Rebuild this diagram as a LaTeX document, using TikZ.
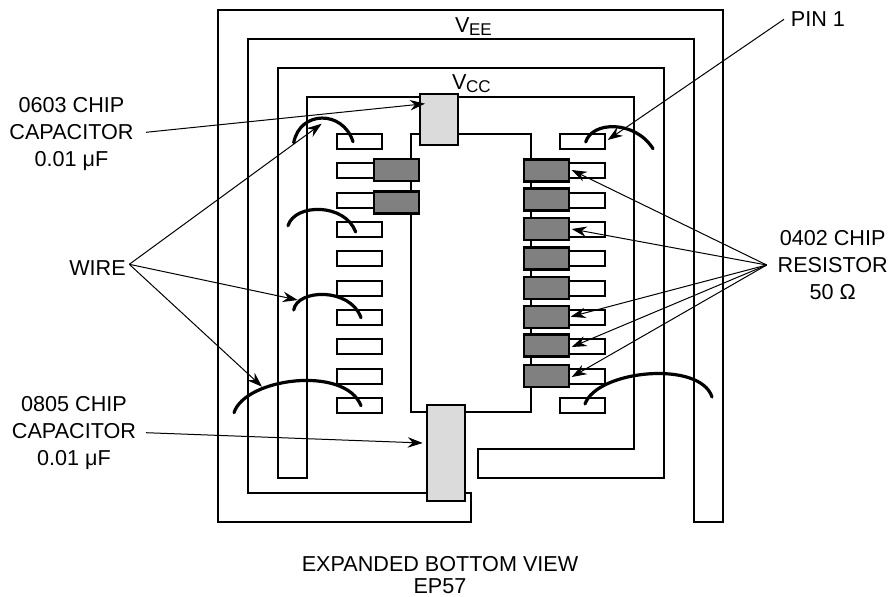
\documentclass[tikz,border=0pt]{standalone}
\usepackage{fontspec}
\setmainfont{Liberation Sans}
\usetikzlibrary{arrows.meta}
\tikzset{
  plane/.style={draw=black,line width=2pt,line join=miter},
  padbox/.style={draw=black,fill=white,line width=2pt,minimum width=45pt,minimum height=15pt,inner sep=0pt,outer sep=0pt},
  resbox/.style={draw=black,fill=black!50,line width=2.4pt,minimum width=45pt,minimum height=22pt,inner sep=0pt,outer sep=0pt},
  capbox/.style={draw=black,fill=black!14,line width=2.4pt,inner sep=0pt,outer sep=0pt},
  wirearc/.style={draw=black,line width=3.2pt,line cap=round},
  leader/.style={draw=black,line width=1pt,-{Stealth[length=15pt,width=10.5pt,inset=5pt]}},
  lbl/.style={font=\fontsize{21.6pt}{27pt}\selectfont,align=center,inner sep=0pt},
  lblb/.style={font=\fontsize{21.6pt}{22.7pt}\selectfont,align=center,inner sep=0pt},
  subl/.style={font=\fontsize{21.6pt}{22pt}\selectfont,inner sep=0pt}
}
\begin{document}
\begin{tikzpicture}[x=1pt,y=-1pt]
\useasboundingbox (0,0) rectangle (892,597);
% planes
\draw[plane] (218,10) -- (723,10) -- (723,522) -- (694,522) -- (694,39) -- (248,39) -- (248,493) -- (471,493) -- (471,522) -- (218,522) -- cycle;
\draw[plane] (278,68) -- (664,68) -- (664,478) -- (478,478) -- (478,449) -- (634,449) -- (634,97) -- (307,97) -- (307,478) -- (278,478) -- cycle;
% inner ground outline
\draw[plane] (425,134) -- (411,134) -- (411,412) -- (440,412);
\draw[plane] (450,134) -- (531,134) -- (531,412) -- (450,412);
% pads
\foreach \i/\y in {1/141.5,2/170.8,3/200.2,4/229.5,5/258.8,6/288.2,7/317.5,8/346.8,9/376.2,10/405.5}{
  \node[padbox] (pl\i) at (359.5,\y) {};
  \node[padbox] (pr\i) at (582.5,\y) {};
}
% resistors
\node[resbox] (rl1) at (396.5,170) {};
\node[resbox] (rl2) at (396.5,202.5) {};
\foreach \i/\y in {1/170.5,2/199.5,3/229,4/258.5,5/288,6/317,7/345.5,8/376}{
  \node[resbox] (rr\i) at (546.5,\y) {};
}
% capacitors
\node[capbox,minimum width=38pt,minimum height=51pt] (c603) at (439,119.5) {};
\node[capbox,minimum width=38pt,minimum height=96pt] (c805) at (446,453) {};
% wires
\coordinate (w1a) at (293.7,142.7); \coordinate (w1b) at (353,141.7);
\coordinate (w2a) at (288,225.7);   \coordinate (w2b) at (355.7,232);
\coordinate (w3a) at (293.7,310);   \coordinate (w3b) at (361,317.7);
\coordinate (w4a) at (234,412.7);   \coordinate (w4b) at (361,405.7);
\coordinate (w5a) at (585.7,142);   \coordinate (w5b) at (653,148.7);
\coordinate (w6a) at (585,404);     \coordinate (w6b) at (712,397);
\draw[wirearc] (w1a) .. controls (300,110) and (343,110) .. (w1b);
\draw[wirearc] (w2a) .. controls (295,203) and (345,203) .. (w2b);
\draw[wirearc] (w3a) .. controls (297,289) and (350,287) .. (w3b);
\draw[wirearc] (w4a) .. controls (245,378) and (345,365) .. (w4b);
\draw[wirearc] (w5a) .. controls (592,121) and (635,120) .. (w5b);
\draw[wirearc] (w6a) .. controls (597,370) and (700,360) .. (w6b);
% labels
\node[subl,anchor=base west] (vee) at (455,32) {V\kern-0.5pt\raisebox{-3pt}{\fontsize{17pt}{18pt}\selectfont EE}};
\node[subl,anchor=base west] (vcc) at (452,89) {V\kern-0.5pt\raisebox{-3pt}{\fontsize{17pt}{18pt}\selectfont CC}};
\node[lbl] (l603) at (71.5,134.5) {0603 CHIP\\CAPACITOR\\0.01 μF};
\node[lbl] (l805) at (74,433) {0805 CHIP\\CAPACITOR\\0.01 μF};
\node[lbl,anchor=base] (lwire) at (97.5,275) {WIRE};
\node[lbl] (lres) at (832.7,265) {0402 CHIP\\RESISTOR\\50 Ω};
\node[lbl,anchor=base] (lpin) at (818,26) {PIN 1};
\node[lblb] (lview) at (440,575) {EXPANDED BOTTOM VIEW\\EP57};
% leaders
\coordinate (s603) at (146,132.3); \coordinate (e603) at (425,103.7);
\coordinate (s805) at (146,432.7); \coordinate (e805) at (422.7,443);
\coordinate (swire) at (129.3,264.3);
\coordinate (ew1) at (321.7,123.7); \coordinate (ew3) at (297.7,300); \coordinate (ew4) at (262,386.7);
\coordinate (spin) at (784,19.3); \coordinate (epin) at (607.7,140);
\coordinate (sres) at (766.7,265);
\coordinate (er1) at (571.7,170); \coordinate (er3) at (571.7,229);
\coordinate (er6) at (570.7,316.7); \coordinate (er7) at (571.7,347); \coordinate (er8) at (571.7,377);
\draw[leader] (s603) -- (e603);
\draw[leader] (s805) -- (e805);
\draw[leader] (swire) -- (ew1);
\draw[leader] (swire) -- (ew3);
\draw[leader] (swire) -- (ew4);
\draw[leader] (spin) -- (epin);
\foreach \e in {er1,er3,er6,er7,er8}{\draw[leader] (sres) -- (\e);}
\end{tikzpicture}
\end{document}
